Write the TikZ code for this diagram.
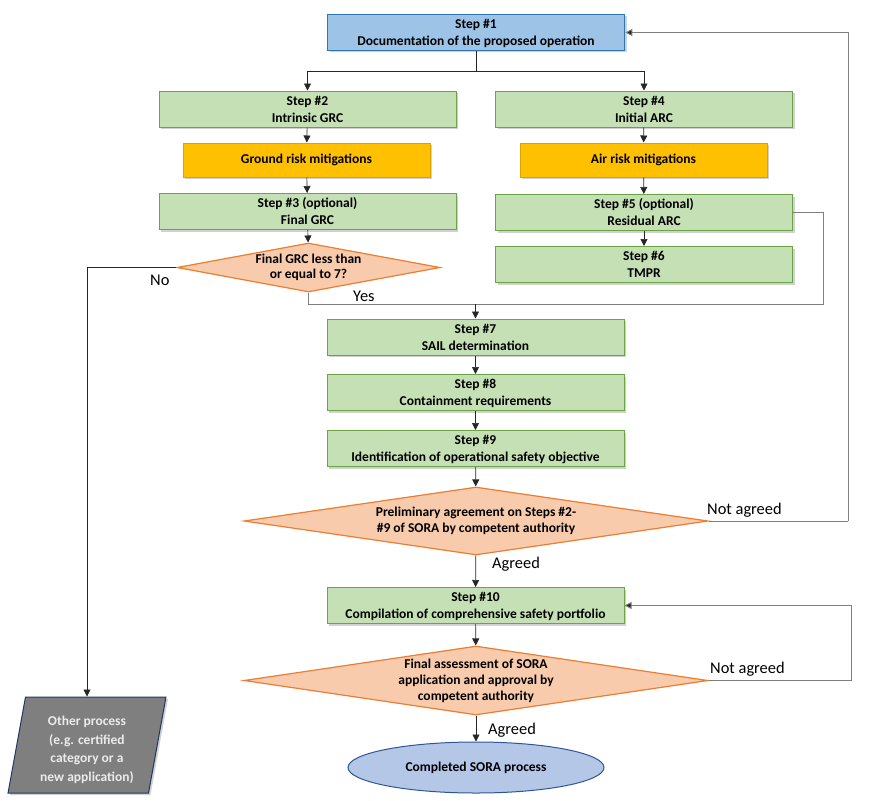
\documentclass[tikz,border=0pt]{standalone}
\usepackage{fontspec}
\setmainfont{Carlito}
\usetikzlibrary{shapes.geometric,shadows,arrows.meta}
\definecolor{bluefill}{HTML}{9DC3E6}
\definecolor{blueline}{HTML}{2E75B6}
\definecolor{greenfill}{HTML}{C5E0B4}
\definecolor{greenline}{HTML}{6AA544}
\definecolor{goldfill}{HTML}{FFC000}
\definecolor{goldline}{HTML}{D9A300}
\definecolor{peachfill}{HTML}{F8CBAD}
\definecolor{orangeline}{HTML}{ED7D31}
\definecolor{ellfill}{HTML}{B4C7E7}
\definecolor{ellline}{HTML}{2F5597}
\definecolor{parafill}{HTML}{7F7F7F}
\definecolor{paraline}{HTML}{203864}
\definecolor{conn}{HTML}{262626}
\definecolor{loopc}{HTML}{7F7F7F}
\newcommand\boxtxt[2]{\raisebox{-#1}[\height][\depth]{\begin{tabular}{@{}c@{}}#2\end{tabular}}}
\tikzset{
  shad/.style={drop shadow={shadow xshift=2pt,shadow yshift=-2pt,opacity=0.3,fill=black!60}},
  stepbox/.style={rectangle, draw=greenline, fill=greenfill, line width=1pt, shad,
     minimum width=297pt, minimum height=33pt, inner sep=1pt,
     font=\fontsize{13.5}{17}\selectfont\bfseries},
  firstbox/.style={stepbox, draw=blueline, fill=bluefill, line width=1.6pt},
  mitbox/.style={stepbox, draw=goldline, fill=goldfill, minimum width=247pt, minimum height=34pt},
  decision/.style={diamond, draw=orangeline, fill=peachfill, line width=1.2pt, inner sep=0pt,
     align=center, font=\fontsize{13.5}{16}\selectfont\bfseries},
  arr/.style={draw=conn, line width=0.7pt, -{Triangle[length=7pt,width=7pt]}},
  ln/.style={draw=conn, line width=0.7pt},
  loopln/.style={draw=loopc, line width=0.9pt},
  looparr/.style={loopln, -{Triangle[length=7pt,width=7pt,fill=conn]}},
  lbl/.style={font=\fontsize{16.4}{18}\selectfont, text=black, inner sep=0pt}
}
\begin{document}
\begin{tikzpicture}[x=1pt,y=-1pt]
\useasboundingbox (0,0) rectangle (872,800);

\node[firstbox] (s1) at (476,32.5) {\boxtxt{1.5pt}{Step \#1\\Documentation of the proposed operation}};
\node[stepbox] (s2) at (307.5,109) {\boxtxt{1.5pt}{Step \#2\\Intrinsic GRC}};
\node[stepbox] (s4) at (644,109) {\boxtxt{1.5pt}{Step \#4\\Initial ARC}};
\node[mitbox] (grm) at (306.5,160) {Ground risk mitigations};
\node[mitbox] (arm) at (643.5,160) {Air risk mitigations};
\node[stepbox] (s3) at (307.5,211.5) {\boxtxt{1.5pt}{Step \#3 (optional)\\Final GRC}};
\node[stepbox] (s5) at (644,212.5) {\boxtxt{1.5pt}{Step \#5 (optional)\\Residual ARC}};
\node[stepbox] (s6) at (644,264.5) {\boxtxt{1.5pt}{Step \#6\\TMPR}};
\node[decision, shape aspect=5.37, minimum width=263pt, minimum height=49pt,
  font=\fontsize{13.5}{14.5}\selectfont\bfseries] (d1) at (308.5,267.5) {Final GRC less than\\or equal to 7?};
\node[stepbox] (s7) at (475.5,337) {\boxtxt{1.5pt}{Step \#7\\SAIL determination}};
\node[stepbox] (s8) at (475.5,392.5) {\boxtxt{1.5pt}{Step \#8\\Containment requirements}};
\node[stepbox] (s9) at (475.5,448.5) {\boxtxt{1.5pt}{Step \#9\\Identification of operational safety objective}};
\node[decision, shape aspect=6.82, minimum width=464pt, minimum height=68pt] (d2) at (476,521) {Preliminary agreement on Steps \#2-\\\#9 of SORA by competent authority};
\node[stepbox] (s10) at (475.5,605.5) {\boxtxt{1.5pt}{Step \#10\\Compilation of comprehensive safety portfolio}};
\node[decision, shape aspect=6.72, minimum width=464pt, minimum height=69pt] (d3) at (476,680.5) {Final assessment of SORA\\application and approval by\\competent authority};
\node[ellipse, draw=ellline, fill=ellfill, line width=1pt, minimum width=256pt, minimum height=51pt,
  font=\fontsize{13.5}{17}\selectfont\bfseries] (end) at (476,767.5) {Completed SORA process};
\node[trapezium, trapezium left angle=80, trapezium right angle=100, trapezium stretches=true,
  draw=paraline, fill=parafill, line width=1pt, minimum width=158pt, minimum height=96pt,
  text=white!92!black, font=\fontsize{13.5}{18.5}\selectfont\bfseries, shad] (other) at (87,745)
  {\boxtxt{5pt}{Other process\\(e.g. certified\\category or a\\new application)}};

% step 1 split
\coordinate (split) at (476,71);
\draw[ln] (s1.south) -- (split);
\draw[arr] (split) -| (s2.north);
\draw[arr] (split) -| (s4.north);
% left column
\draw[arr] (s2) -- (grm);
\draw[arr] (grm) -- (s3);
\draw[arr] (s3) -- (d1);
% right column
\draw[arr] (s4) -- (arm);
\draw[arr] (arm) -- (s5);
\draw[arr] (s5) -- (s6);
% No branch
\draw[arr] (d1.west) -| (other.north);
\node[lbl, anchor=west] at (150,280) {No};
% Yes merge
\coordinate (rcorner) at (823,304);
\coordinate (merge) at (475.5,304);
\draw[loopln] (d1.south) |- (rcorner) |- (s5.east);
\node[lbl, anchor=west] at (353,296) {Yes};
\draw[arr] (merge) -- (s7.north);
% main column
\draw[arr] (s7) -- (s8);
\draw[arr] (s8) -- (s9);
\draw[arr] (s9) -- (d2);
% not agreed 1
\coordinate (r2) at (848,521);
\draw[loopln] (d2.east) -- (r2);
\draw[looparr] (r2) |- (s1.east);
\node[lbl, anchor=west] at (707,510) {Not agreed};
\draw[arr] (d2) -- (s10);
\node[lbl, anchor=west] at (492,564) {Agreed};
\draw[arr] (s10) -- (d3);
% not agreed 2
\coordinate (r3) at (851,680.5);
\draw[loopln] (d3.east) -- (r3);
\draw[looparr] (r3) |- (s10.east);
\node[lbl, anchor=west] at (710,669) {Not agreed};
\draw[arr] (d3) -- (end);
\node[lbl, anchor=west] at (488,730) {Agreed};
\end{tikzpicture}
\end{document}
